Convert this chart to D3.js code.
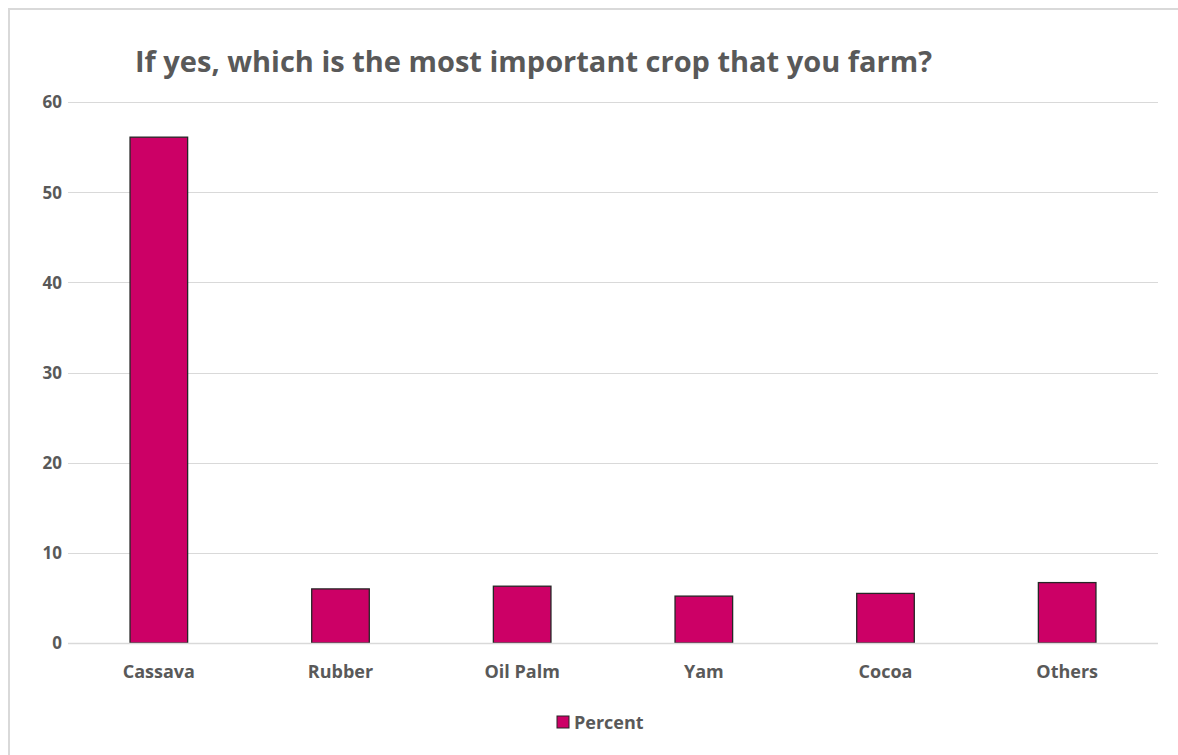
<!DOCTYPE html>
<html>
<head>
<meta charset="utf-8">
<script src="https://cdn.jsdelivr.net/npm/d3@7"></script>
<style>
  html, body { margin: 0; padding: 0; background: #ffffff; }
  svg { display: block; }
  text { font-family: "Open Sans", "Noto Sans", sans-serif; font-weight: bold; fill: #595959; }
</style>
</head>
<body>
<svg id="chart" width="1178" height="755"></svg>
<script>
// Survey answers: most important crop farmed (percent of respondents)
const categories = ["Cassava", "Rubber", "Oil Palm", "Yam", "Cocoa", "Others"];
const percentValues = [56.1, 6.0, 6.3, 5.2, 5.5, 6.7];
const yTicks = [0, 10, 20, 30, 40, 50, 60];
const seriesName = "Percent";
const chartTitle = "If yes, which is the most important crop that you farm?";

const svg = d3.select("#chart");
const W = 1178, H = 755;
const margin = { left: 68, right: 20, top: 102, bottom: 112 };
const plotRight = 1158;
const plotBottom = 643;

// Chart area outline
svg.append("rect")
  .attr("x", 9).attr("y", 9)
  .attr("width", W + 20).attr("height", H + 20)
  .attr("fill", "#ffffff")
  .attr("stroke", "#d9d9d9")
  .attr("stroke-width", 2);

const x = d3.scaleBand()
  .domain(categories)
  .range([margin.left, plotRight])
  .paddingInner(0.683)
  .paddingOuter(0.3415);

const y = d3.scaleLinear()
  .domain([0, 60])
  .range([plotBottom, margin.top]);

// Horizontal gridlines
svg.append("g")
  .selectAll("line")
  .data(yTicks)
  .join("line")
  .attr("x1", margin.left).attr("x2", plotRight)
  .attr("y1", d => Math.round(y(d)) + 0.5)
  .attr("y2", d => Math.round(y(d)) + 0.5)
  .attr("stroke", "#d9d9d9")
  .attr("stroke-width", 1);

// Y axis labels
const yAxis = d3.axisLeft(y).tickValues(yTicks).tickSize(0).tickPadding(0);
const yg = svg.append("g")
  .attr("transform", `translate(${margin.left - 6},0)`)
  .call(yAxis);
yg.select(".domain").remove();
yg.selectAll("text")
  .attr("font-size", "17px")
  .attr("dy", "0.35em")
  .style("font-family", "\"Open Sans\", sans-serif")
  .style("font-weight", "bold")
  .attr("fill", "#595959");

// Bars
svg.append("g")
  .selectAll("rect")
  .data(categories.map((c, i) => ({ c, v: percentValues[i] })))
  .join("rect")
  .attr("x", d => x(d.c))
  .attr("y", d => y(d.v))
  .attr("width", x.bandwidth())
  .attr("height", d => y(0) - y(d.v))
  .attr("fill", "#cc0066")
  .attr("stroke", "#262626")
  .attr("stroke-width", 1.3);

// Baseline
svg.append("line")
  .attr("x1", margin.left).attr("x2", plotRight)
  .attr("y1", plotBottom + 0.5).attr("y2", plotBottom + 0.5)
  .attr("stroke", "#d9d9d9").attr("stroke-width", 1.5);

// Category axis labels
const xAxis = d3.axisBottom(x).tickSize(0).tickPadding(0);
const xg = svg.append("g")
  .attr("transform", `translate(0,${plotBottom + 29})`)
  .call(xAxis);
xg.select(".domain").remove();
xg.selectAll("text")
  .attr("font-size", "18px")
  .attr("dy", "0.35em")
  .style("font-family", "\"Open Sans\", sans-serif")
  .style("font-weight", "bold")
  .attr("fill", "#595959");

// Title
svg.append("text")
  .attr("x", 135)
  .attr("y", 72)
  .attr("font-size", "28px")
  .attr("textLength", 797)
  .attr("lengthAdjust", "spacingAndGlyphs")
  .text(chartTitle);

// Legend
const lg = svg.append("g").attr("transform", "translate(557,716)");
lg.append("rect")
  .attr("x", 0).attr("y", 0)
  .attr("width", 12).attr("height", 12)
  .attr("fill", "#cc0066")
  .attr("stroke", "#262626").attr("stroke-width", 1);
lg.append("text")
  .attr("x", 17).attr("y", 6.5)
  .attr("dy", "0.35em")
  .attr("font-size", "18px")
  .text(seriesName);
</script>
</body>
</html>
